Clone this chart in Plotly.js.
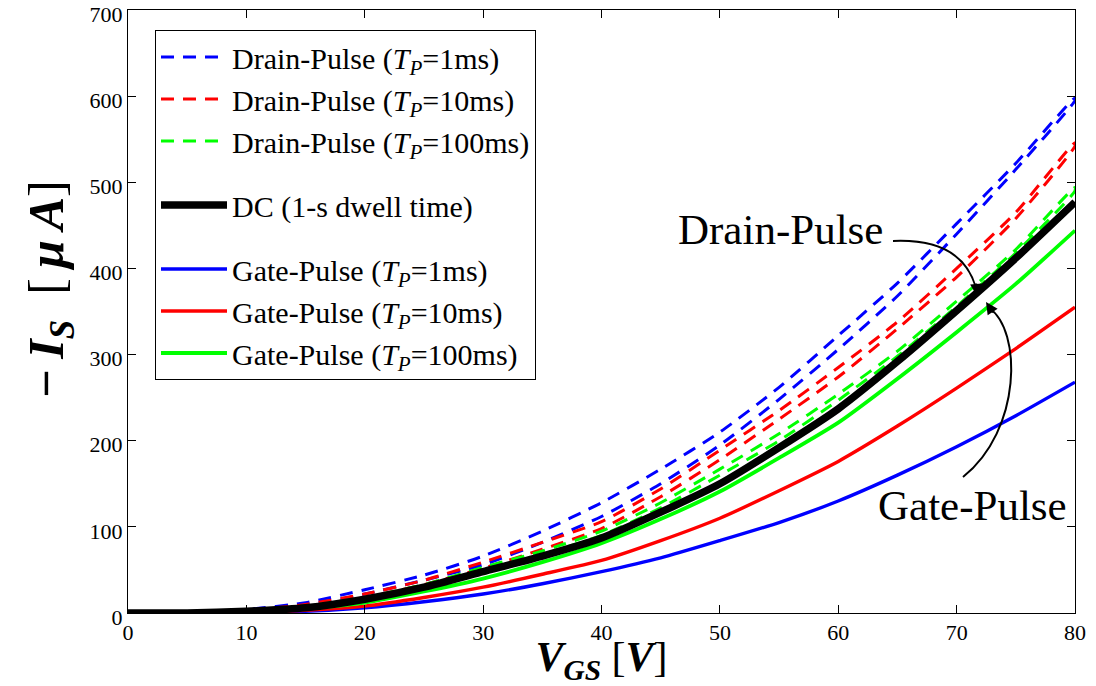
<!DOCTYPE html>
<html>
<head>
<meta charset="utf-8">
<script src="https://cdn.plot.ly/plotly-3.0.1.min.js"></script>
<style>html,body{margin:0;padding:0;background:#fff;}#chart{width:1096px;height:686px;}</style>
</head>
<body>
<div id="chart"></div>
<script>
// V_GS sweep points [V]
const vgs = [0,5,10,15,20,25,30,35,40,45,50,55,60,65,70,75,80];
// -I_S [uA], drain-pulse: forward / reverse sweep
const drain1_fwd   = [0,0,4,12,27,44,66,95,128,167,210,262,322,383,452,522,598];
const drain1_rev   = [0,0,3,9,22,38,56,82,112,150,195,248,306,368,440,515,595];
const drain10_fwd  = [0,0,3,10,22,38,59,82,106,144,189,235,285,338,400,465,546];
const drain10_rev  = [0,0,3,8,18,33,52,74,98,135,178,225,274,330,390,458,542];
const drain100_fwd = [0,0,3,8,18,33,53,72,95,128,167,208,254,304,362,422,494];
const drain100_rev = [0,0,2,7,16,31,49,68,90,122,160,200,247,298,356,418,490];
// DC and gate-pulse
const dc      = [0,0,2,6,16,30,48,66,87,117,150,192,237,292,351,412,477];
const gate100 = [-1,-1,1,5,12,25,40,59,81,109,141,180,221,272,326,382,444];
const gate10  = [0,0,1,3,8,18,30,45,61,84,110,142,176,217,261,307,355];
const gate1   = [0,0,1,2,6,13,22,34,48,64,84,105,130,160,193,229,268];

const xTicks = [0,10,20,30,40,50,60,70,80];
const yTicks = [0,100,200,300,400,500,600,700];

const FONT = 'Liberation Serif';

function loop(fwd, rev){
  return {x: vgs.concat(vgs.slice().reverse()), y: fwd.concat(rev.slice().reverse())};
}
function dashed(fwd, rev, color, name){
  const d = loop(fwd, rev);
  return {x: d.x, y: d.y, type:'scatter', mode:'lines', name: name, legendgroup:'drain',
    line:{color:color, width:3, dash:'13px,9px', shape:'spline', smoothing:0.6}};
}
function solid(y, color, name, width, group){
  return {x: vgs, y: y, type:'scatter', mode:'lines', name: name, legendgroup: group,
    line:{color:color, width:width, shape:'spline', smoothing:0.6}};
}

const traces = [
  dashed(drain1_fwd, drain1_rev, '#0000ff', 'Drain-Pulse (<i>T<sub>P</sub></i>=1ms)'),
  dashed(drain10_fwd, drain10_rev, '#ff0000', 'Drain-Pulse (<i>T<sub>P</sub></i>=10ms)'),
  dashed(drain100_fwd, drain100_rev, '#00ff00', 'Drain-Pulse (<i>T<sub>P</sub></i>=100ms)'),
  solid(gate1, '#0000ff', 'Gate-Pulse (<i>T<sub>P</sub></i>=1ms)', 3.4, 'gate'),
  solid(gate10, '#ff0000', 'Gate-Pulse (<i>T<sub>P</sub></i>=10ms)', 3.4, 'gate'),
  solid(gate100, '#00ff00', 'Gate-Pulse (<i>T<sub>P</sub></i>=100ms)', 3.8, 'gate'),
  solid(dc, '#000000', 'DC (1-s dwell time)', 7.5, 'dc')
];
traces[0].legendrank = 1; traces[1].legendrank = 2; traces[2].legendrank = 3;
traces[6].legendrank = 4;
traces[3].legendrank = 5; traces[4].legendrank = 6; traces[5].legendrank = 7;

// pixel helpers for annotation placement (plot area 128..1075 x, 10..613 y)
const T = 10;
function ux(px){ return (px-128)/947*80; }
function vy(py){ return (613-py)/(613-T)*700; }
function px2paperX(px){ return (px-128)/947; }
function py2paperY(py){ return (613-py)/(613-T); }

const layout = {
  width:1096, height:686,
  margin:{l:128, r:21, t:T, b:73},
  paper_bgcolor:'#fff', plot_bgcolor:'#fff',
  font:{family:FONT, color:'#000'},
  showlegend:true,
  legend:{x:px2paperX(155), y:py2paperY(30), xanchor:'left', yanchor:'top', bgcolor:'#fff',
    bordercolor:'#000', borderwidth:1, font:{family:FONT, size:30, color:'#000'},
    traceorder:'grouped', tracegroupgap:22, itemwidth:66},
  xaxis:{range:[0,80], tickvals:xTicks, ticktext:xTicks.map(String), ticks:'inside', ticklen:8,
    tickcolor:'#000', showline:true, linecolor:'#000', linewidth:1, mirror:'ticks',
    showgrid:false, zeroline:false, tickfont:{family:FONT, size:22, color:'#000'},
    title:{text:'<b><i>V<sub>GS</sub></i></b> [<b><i>V</i></b>]', font:{family:FONT, size:42, color:'#000'}, standoff:8}},
  yaxis:{range:[0,700], tickvals:yTicks, ticktext:yTicks.map(String), ticks:'inside', ticklen:8,
    tickcolor:'#000', showline:true, linecolor:'#000', linewidth:1, mirror:'ticks',
    showgrid:false, zeroline:false, ticklabeloverflow:'allow', ticklabelshift:4,
    tickfont:{family:FONT, size:22, color:'#000'}},
  shapes:[
    {type:'path', xref:'x', yref:'y', line:{color:'#000', width:2},
     path:`M ${ux(893)},${vy(241)} Q ${ux(962)},${vy(238)} ${ux(976)},${vy(288)}`},
    {type:'path', xref:'x', yref:'y', line:{color:'#000', width:2},
     path:`M ${ux(963)},${vy(477)} C ${ux(1022)},${vy(430)} ${ux(1022)},${vy(330)} ${ux(989)},${vy(308)}`}
  ],
  annotations:[
    {x:px2paperX(50), y:py2paperY(290), xref:'paper', yref:'paper', textangle:-90,
     xanchor:'center', yanchor:'middle', showarrow:false,
     text:'<b><i>−\u2009I<sub>S</sub></i></b>\u2002[<b><i>\u2009μ\u2009A</i></b>]',
     font:{family:FONT, size:50, color:'#000'}},
    {x:ux(780), y:vy(229), xref:'x', yref:'y', text:'Drain-Pulse', showarrow:false,
     font:{family:FONT, size:43, color:'#000'}},
    {x:ux(972), y:vy(505), xref:'x', yref:'y', text:'Gate-Pulse', showarrow:false,
     font:{family:FONT, size:43, color:'#000'}},
    {x:ux(977), y:vy(296), xref:'x', yref:'y', text:'', showarrow:true, arrowhead:2,
     arrowsize:1.2, arrowwidth:2, arrowcolor:'#000', ax:-1, ay:-14},
    {x:ux(986), y:vy(302), xref:'x', yref:'y', text:'', showarrow:true, arrowhead:2,
     arrowsize:1.2, arrowwidth:2, arrowcolor:'#000', ax:8, ay:12}
  ]
};

Plotly.newPlot('chart', traces, layout, {displayModeBar:false, staticPlot:true});
</script>
</body>
</html>
